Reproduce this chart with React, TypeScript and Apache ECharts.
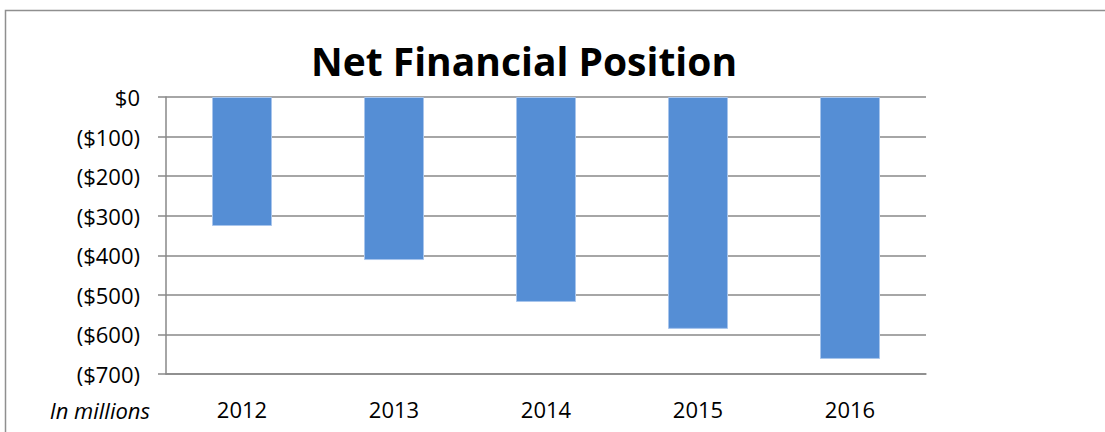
import React, { useEffect, useRef } from "react";
import * as echarts from "echarts";

const categories = ["2012", "2013", "2014", "2015", "2016"];
const netPosition = [-326, -412, -518, -586, -662];
const yMin = -700;
const yMax = 0;
const yStep = 100;

const FONT = "'Open Sans', 'Noto Sans', sans-serif";
const GRAY = "#898989";

export default function App() {
  const ref = useRef<HTMLDivElement>(null);
  useEffect(() => {
    if (!ref.current) return;
    const chart = echarts.init(ref.current, undefined, { renderer: "svg" });
    chart.setOption({
      animation: false,
      backgroundColor: "#ffffff",
      title: {
        text: "Net Financial Position",
        left: 311,
        top: 41,
        padding: 0,
        textStyle: { fontFamily: FONT, fontWeight: "bold", fontSize: 39, color: "#000" },
      },
      grid: { left: 166, right: 179, top: 97, bottom: 58 },
      xAxis: {
        type: "category",
        data: categories,
        axisLine: { onZero: false, lineStyle: { color: GRAY, width: 1.5 } },
        axisTick: { show: false },
        axisLabel: { color: "#000", fontFamily: FONT, fontSize: 22, margin: 24 },
      },
      yAxis: {
        type: "value",
        min: yMin,
        max: yMax,
        interval: yStep,
        axisLine: { show: true, lineStyle: { color: GRAY, width: 1.5 } },
        axisTick: { show: true, length: 8, lineStyle: { color: GRAY, width: 1.5 } },
        splitLine: { lineStyle: { color: GRAY, width: 1.5 } },
        axisLabel: {
          color: "#000",
          fontFamily: FONT,
          fontSize: 22,
          margin: 26,
          formatter: (v: number) => (v === 0 ? "$0" : "($" + Math.abs(v) + ")"),
        },
      },
      series: [
        {
          type: "bar",
          data: netPosition,
          barWidth: 60,
          itemStyle: { color: "#558ED5", borderColor: "#A8C5EC", borderWidth: 1 },
        },
      ],
      graphic: [
        {
          type: "rect",
          shape: { x: 5.5, y: 10.5, width: 1110, height: 440 },
          style: { fill: "none", stroke: "#8f8f8f", lineWidth: 1.5 },
          silent: true,
        },
        {
          type: "text",
          x: 150,
          y: 410,
          style: {
            text: "In millions",
            fontFamily: FONT,
            fontStyle: "italic",
            fontSize: 22,
            fill: "#000",
            align: "right",
            verticalAlign: "middle",
          },
        },
      ],
    });
    return () => chart.dispose();
  }, []);
  return (
    <div
      ref={ref}
      style={{ position: "absolute", left: 0, top: 0, width: 1105, height: 432 }}
    />
  );
}
